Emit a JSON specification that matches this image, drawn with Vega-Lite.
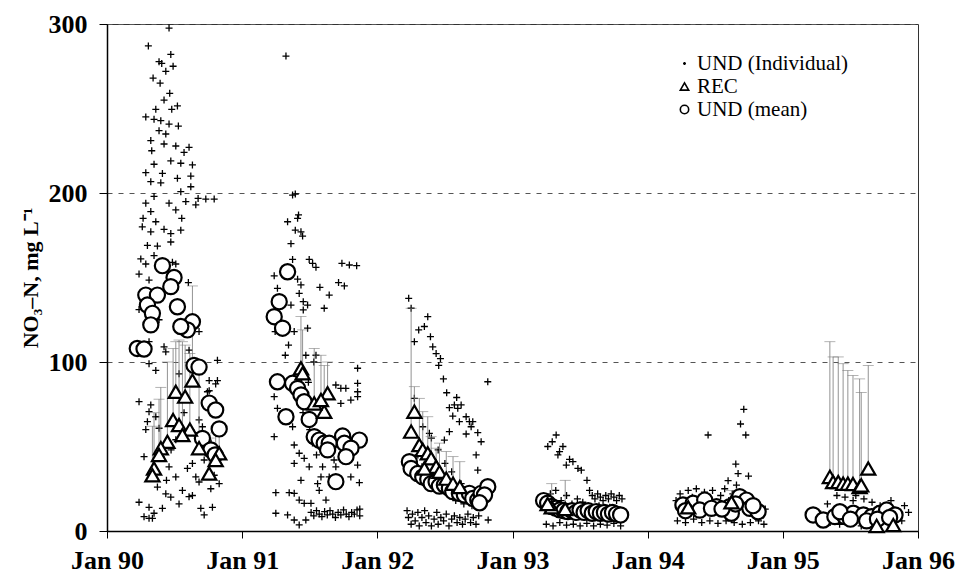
{
  "$schema": "https://vega.github.io/schema/vega-lite/v6.json",
  "autosize": {"type": "none"},
  "padding": {"left": 107, "top": 24, "right": 40, "bottom": 47},
  "width": 811,
  "height": 507,
  "background": "white",
  "config": {
    "view": {"stroke": "#333", "strokeWidth": 1},
    "font": "Liberation Serif"
  },
  "datasets": {
    "ind": [
      {"t":1990.459,"v":297.6},{"t":1990.306,"v":287},{"t":1990.472,"v":282},{"t":1990.385,"v":277.7},{"t":1990.405,"v":276.7},{"t":1990.489,"v":275},{"t":1990.435,"v":272},{"t":1990.341,"v":268},{"t":1990.393,"v":265},{"t":1990.464,"v":259},{"t":1990.422,"v":255},{"t":1990.521,"v":251.5},{"t":1990.361,"v":249.5},{"t":1990.479,"v":249.5},{"t":1990.287,"v":245},{"t":1990.348,"v":243.6},{"t":1990.398,"v":242.8},{"t":1990.459,"v":240.8},{"t":1990.528,"v":239.6},{"t":1990.385,"v":236.9},{"t":1990.435,"v":234.9},{"t":1990.324,"v":231},{"t":1990.422,"v":229},{"t":1990.509,"v":227.8},{"t":1990.607,"v":227},{"t":1990.57,"v":224},{"t":1990.331,"v":225},{"t":1990.472,"v":219},{"t":1990.546,"v":217.6},{"t":1990.632,"v":216.6},{"t":1990.348,"v":217},{"t":1990.287,"v":212},{"t":1990.41,"v":211.6},{"t":1990.521,"v":208.7},{"t":1990.62,"v":210},{"t":1990.324,"v":206.7},{"t":1990.398,"v":206},{"t":1990.62,"v":203.7},{"t":1990.546,"v":200.8},{"t":1990.348,"v":198},{"t":1990.674,"v":196.8},{"t":1990.731,"v":196.4},{"t":1990.793,"v":196.4},{"t":1990.287,"v":194},{"t":1990.459,"v":194},{"t":1990.583,"v":194.9},{"t":1990.657,"v":193},{"t":1990.324,"v":189},{"t":1990.509,"v":190},{"t":1990.553,"v":185},{"t":1990.267,"v":185},{"t":1990.361,"v":183},{"t":1990.261,"v":180},{"t":1990.422,"v":178.5},{"t":1990.546,"v":178},{"t":1990.324,"v":177},{"t":1990.472,"v":176},{"t":1990.299,"v":169},{"t":1990.373,"v":168.6},{"t":1990.472,"v":171},{"t":1990.25,"v":161},{"t":1990.287,"v":158},{"t":1990.484,"v":159},{"t":1990.348,"v":163},{"t":1990.509,"v":158},{"t":1990.237,"v":152},{"t":1990.311,"v":148.5},{"t":1990.602,"v":147},{"t":1990.237,"v":131},{"t":1990.385,"v":125},{"t":1990.681,"v":118},{"t":1990.311,"v":112},{"t":1990.422,"v":109},{"t":1990.435,"v":106},{"t":1990.607,"v":107},{"t":1990.817,"v":101},{"t":1990.311,"v":99},{"t":1990.361,"v":95},{"t":1990.533,"v":93},{"t":1990.756,"v":89},{"t":1990.817,"v":89},{"t":1990.237,"v":76.5},{"t":1990.324,"v":74.6},{"t":1990.311,"v":70.6},{"t":1990.299,"v":64.7},{"t":1990.287,"v":60},{"t":1990.385,"v":60.8},{"t":1990.274,"v":44},{"t":1990.459,"v":38},{"t":1990.509,"v":32},{"t":1990.373,"v":26},{"t":1990.435,"v":22},{"t":1990.472,"v":20},{"t":1990.237,"v":17},{"t":1990.311,"v":14},{"t":1990.348,"v":10.5},{"t":1990.311,"v":7.5},{"t":1990.632,"v":21},{"t":1990.694,"v":13.4},{"t":1990.78,"v":14},{"t":1990.719,"v":9.5},{"t":1990.83,"v":28},{"t":1990.657,"v":32},{"t":1990.768,"v":25},{"t":1990.595,"v":37},{"t":1990.558,"v":24},{"t":1990.632,"v":40},{"t":1990.681,"v":65.7},{"t":1990.706,"v":61.7},{"t":1990.756,"v":83},{"t":1990.804,"v":87},{"t":1990.533,"v":16},{"t":1990.41,"v":13.4},{"t":1990.509,"v":54},{"t":1990.274,"v":8.5},{"t":1990.336,"v":7.5},{"t":1990.4,"v":44},{"t":1990.474,"v":48},{"t":1990.57,"v":70},{"t":1990.644,"v":58},{"t":1990.44,"v":30},{"t":1990.719,"v":42},{"t":1990.793,"v":33},{"t":1990.77,"v":52},{"t":1990.361,"v":67.6},{"t":1990.743,"v":82.4},{"t":1990.681,"v":29},{"t":1990.607,"v":20.3},
      {"t":1991.324,"v":281},{"t":1991.373,"v":198.8},{"t":1991.393,"v":199.4},{"t":1991.417,"v":187},{"t":1991.41,"v":185},{"t":1991.336,"v":183},{"t":1991.393,"v":178},{"t":1991.435,"v":177},{"t":1991.447,"v":174.5},{"t":1991.361,"v":170},{"t":1991.373,"v":160.7},{"t":1991.496,"v":160.7},{"t":1991.521,"v":158.4},{"t":1991.546,"v":156},{"t":1991.738,"v":158.4},{"t":1991.793,"v":157.4},{"t":1991.847,"v":157},{"t":1991.237,"v":151},{"t":1991.41,"v":149},{"t":1991.435,"v":145.6},{"t":1991.261,"v":143.6},{"t":1991.422,"v":140.6},{"t":1991.575,"v":144.2},{"t":1991.713,"v":147},{"t":1991.756,"v":145},{"t":1991.644,"v":139.6},{"t":1991.452,"v":135.7},{"t":1991.484,"v":133.7},{"t":1991.361,"v":133.7},{"t":1991.607,"v":131.8},{"t":1991.452,"v":130.8},{"t":1991.484,"v":120},{"t":1991.244,"v":118},{"t":1991.385,"v":118},{"t":1991.343,"v":110},{"t":1991.319,"v":104},{"t":1991.471,"v":104},{"t":1991.546,"v":104},{"t":1991.854,"v":96.3},{"t":1991.237,"v":79.5},{"t":1991.261,"v":72.6},{"t":1991.693,"v":86.4},{"t":1991.73,"v":84.4},{"t":1991.767,"v":84.4},{"t":1991.854,"v":87.4},{"t":1991.854,"v":82.4},{"t":1991.854,"v":79.5},{"t":1991.804,"v":77.5},{"t":1991.73,"v":75.5},{"t":1991.237,"v":55.8},{"t":1991.373,"v":61.7},{"t":1991.385,"v":50.9},{"t":1991.422,"v":46},{"t":1991.459,"v":43},{"t":1991.385,"v":40},{"t":1991.496,"v":38},{"t":1991.595,"v":38},{"t":1991.693,"v":38},{"t":1991.854,"v":39},{"t":1991.583,"v":32},{"t":1991.435,"v":30},{"t":1991.558,"v":28},{"t":1991.644,"v":32},{"t":1991.804,"v":32},{"t":1991.867,"v":28.6},{"t":1991.57,"v":24},{"t":1991.249,"v":22.7},{"t":1991.348,"v":22.7},{"t":1991.385,"v":22.3},{"t":1991.422,"v":18.3},{"t":1991.459,"v":16.4},{"t":1991.509,"v":16.4},{"t":1991.62,"v":18.3},{"t":1991.249,"v":10.5},{"t":1991.336,"v":9.5},{"t":1991.385,"v":6.5},{"t":1991.422,"v":3.6},{"t":1991.471,"v":6.5},
      {"t":1991.51,"v":11},{"t":1991.53,"v":9},{"t":1991.55,"v":12},{"t":1991.57,"v":10},{"t":1991.59,"v":8.5},{"t":1991.61,"v":11.5},{"t":1991.63,"v":9.5},{"t":1991.65,"v":12},{"t":1991.67,"v":10},{"t":1991.69,"v":8},{"t":1991.71,"v":11},{"t":1991.73,"v":9.5},{"t":1991.75,"v":12.5},{"t":1991.77,"v":10},{"t":1991.79,"v":8.5},{"t":1991.81,"v":11},{"t":1991.83,"v":10},{"t":1991.85,"v":12.5},{"t":1991.87,"v":9},{"t":1991.87,"v":13},
      {"t":1991.45,"v":70},{"t":1991.47,"v":65},{"t":1991.5,"v":60},{"t":1991.52,"v":52},{"t":1991.55,"v":45},{"t":1991.58,"v":55},{"t":1991.62,"v":48},{"t":1991.68,"v":42},{"t":1991.7,"v":30},{"t":1991.44,"v":90},{"t":1991.49,"v":88},{"t":1991.53,"v":100},
      {"t":1992.232,"v":137.7},{"t":1992.25,"v":131.8},{"t":1992.373,"v":126.8},{"t":1992.348,"v":121},{"t":1992.306,"v":119},{"t":1992.393,"v":115},{"t":1992.274,"v":112},{"t":1992.41,"v":109},{"t":1992.435,"v":105},{"t":1992.467,"v":102},{"t":1992.454,"v":98},{"t":1992.489,"v":90},{"t":1992.817,"v":88.3},{"t":1992.513,"v":81.8},{"t":1992.587,"v":79},{"t":1992.533,"v":73},{"t":1992.57,"v":74.6},{"t":1992.595,"v":72.6},{"t":1992.62,"v":74.6},{"t":1992.558,"v":68},{"t":1992.607,"v":64.7},{"t":1992.657,"v":67.6},{"t":1992.681,"v":64.7},{"t":1992.694,"v":61.7},{"t":1992.706,"v":64.7},{"t":1992.657,"v":57.4},{"t":1992.743,"v":58.2},{"t":1992.768,"v":52.8},{"t":1992.731,"v":45},{"t":1992.743,"v":36},{"t":1992.533,"v":58.8},{"t":1992.496,"v":53.8},{"t":1992.385,"v":57.8},{"t":1992.336,"v":61.7},{"t":1992.274,"v":78.5},
      {"t":1992.22,"v":12},{"t":1992.23,"v":8},{"t":1992.25,"v":4},{"t":1992.26,"v":10},{"t":1992.28,"v":6},{"t":1992.3,"v":11},{"t":1992.31,"v":3},{"t":1992.33,"v":8},{"t":1992.35,"v":12},{"t":1992.36,"v":5},{"t":1992.38,"v":9},{"t":1992.4,"v":3},{"t":1992.42,"v":7},{"t":1992.44,"v":11},{"t":1992.45,"v":4},{"t":1992.47,"v":8},{"t":1992.49,"v":6},{"t":1992.51,"v":10},{"t":1992.53,"v":3},{"t":1992.55,"v":7},{"t":1992.57,"v":9},{"t":1992.59,"v":5},{"t":1992.61,"v":8},{"t":1992.63,"v":4},{"t":1992.65,"v":7},{"t":1992.67,"v":10},{"t":1992.69,"v":5},{"t":1992.71,"v":8},{"t":1992.73,"v":4},{"t":1992.75,"v":9},{"t":1992.82,"v":6.5},
      {"t":1992.3,"v":45},{"t":1992.33,"v":38},{"t":1992.36,"v":33},{"t":1992.42,"v":30},{"t":1992.47,"v":25},{"t":1992.52,"v":22},{"t":1992.58,"v":18},{"t":1992.64,"v":16},{"t":1992.7,"v":15},{"t":1992.75,"v":14},{"t":1992.45,"v":48},{"t":1992.5,"v":40},{"t":1992.4,"v":55},{"t":1992.55,"v":35},{"t":1992.62,"v":28},
      {"t":1993.323,"v":56.8},{"t":1993.294,"v":52.8},{"t":1993.261,"v":50},{"t":1993.373,"v":50},{"t":1993.348,"v":47},{"t":1993.336,"v":45},{"t":1993.422,"v":42.4},{"t":1993.447,"v":41},{"t":1993.398,"v":39},{"t":1993.484,"v":37},{"t":1993.509,"v":36},{"t":1993.551,"v":30},{"t":1993.57,"v":24},
      {"t":1993.59,"v":21},{"t":1993.61,"v":19},{"t":1993.63,"v":22},{"t":1993.65,"v":20},{"t":1993.67,"v":18},{"t":1993.69,"v":21},{"t":1993.71,"v":19},{"t":1993.73,"v":22},{"t":1993.75,"v":20},{"t":1993.77,"v":18},{"t":1993.79,"v":21},{"t":1993.81,"v":19},
      {"t":1993.25,"v":4},{"t":1993.3,"v":3},{"t":1993.35,"v":5},{"t":1993.4,"v":3.5},{"t":1993.45,"v":4},{"t":1993.5,"v":3},{"t":1993.55,"v":4.5},{"t":1993.6,"v":3},{"t":1993.65,"v":4},{"t":1993.7,"v":3.5},{"t":1993.75,"v":4.5},{"t":1993.8,"v":3},
      {"t":1993.24,"v":20},{"t":1993.28,"v":22},{"t":1993.32,"v":24},{"t":1993.36,"v":18},{"t":1993.4,"v":21},{"t":1993.44,"v":16},{"t":1993.48,"v":19},{"t":1993.52,"v":17},{"t":1993.56,"v":14},{"t":1993.6,"v":12},{"t":1993.64,"v":15},{"t":1993.68,"v":11},{"t":1993.72,"v":14},{"t":1993.76,"v":12},{"t":1993.8,"v":10},
      {"t":1994.711,"v":72},{"t":1994.687,"v":63.3},{"t":1994.726,"v":56.8},{"t":1994.447,"v":56.8},{"t":1994.652,"v":39.6},{"t":1994.669,"v":34},{"t":1994.746,"v":32.5},{"t":1994.595,"v":29.8},{"t":1994.657,"v":27.2},
      {"t":1994.21,"v":18},{"t":1994.24,"v":22},{"t":1994.27,"v":15},{"t":1994.3,"v":24},{"t":1994.33,"v":20},{"t":1994.36,"v":25},{"t":1994.39,"v":17},{"t":1994.42,"v":23},{"t":1994.45,"v":19},{"t":1994.48,"v":24},{"t":1994.51,"v":16},{"t":1994.54,"v":21},{"t":1994.57,"v":25},{"t":1994.6,"v":18},{"t":1994.63,"v":22},{"t":1994.66,"v":16},{"t":1994.69,"v":20},{"t":1994.72,"v":14},{"t":1994.75,"v":18},{"t":1994.78,"v":12},{"t":1994.81,"v":16},{"t":1994.84,"v":10},{"t":1994.87,"v":13},
      {"t":1994.22,"v":6},{"t":1994.28,"v":5},{"t":1994.34,"v":7},{"t":1994.4,"v":5},{"t":1994.46,"v":6},{"t":1994.52,"v":4.5},{"t":1994.58,"v":6},{"t":1994.64,"v":5},{"t":1994.7,"v":4},{"t":1994.76,"v":5},{"t":1994.82,"v":6},{"t":1994.86,"v":4},
      {"t":1995.33,"v":16},{"t":1995.4,"v":21},{"t":1995.46,"v":20},{"t":1995.52,"v":18},{"t":1995.54,"v":21},{"t":1995.6,"v":19},{"t":1995.66,"v":17},{"t":1995.72,"v":15},{"t":1995.8,"v":18},{"t":1995.85,"v":12},{"t":1995.9,"v":15},{"t":1995.93,"v":11},{"t":1995.35,"v":5},{"t":1995.42,"v":4},{"t":1995.5,"v":6},{"t":1995.58,"v":3},{"t":1995.68,"v":5},{"t":1995.78,"v":4},{"t":1995.88,"v":6},{"t":1995.28,"v":10},{"t":1995.45,"v":13},{"t":1995.62,"v":12},{"t":1995.75,"v":10}
    ],
    "rec": [
      {"t":1990.632,"v":89,"hi":145},{"t":1990.509,"v":82.4,"hi":112},{"t":1990.578,"v":79.5,"hi":110},{"t":1990.489,"v":65.7,"hi":108},{"t":1990.533,"v":62.7,"hi":113},{"t":1990.613,"v":60,"hi":105},{"t":1990.558,"v":56.8,"hi":112},{"t":1990.447,"v":52.8,"hi":100},{"t":1990.398,"v":49,"hi":85},{"t":1990.385,"v":45,"hi":78},{"t":1990.681,"v":49,"hi":95},{"t":1990.83,"v":46,"hi":60},{"t":1990.756,"v":34,"hi":55},{"t":1990.348,"v":37,"hi":70},{"t":1990.336,"v":33,"hi":62},{"t":1990.804,"v":42,"hi":58},
      {"t":1991.435,"v":96.3,"hi":127},{"t":1991.447,"v":93.3,"hi":119},{"t":1991.632,"v":81.5,"hi":100},{"t":1991.607,"v":70.6,"hi":98},{"t":1991.533,"v":75.5,"hi":108},{"t":1991.583,"v":77.5,"hi":104},
      {"t":1992.274,"v":70.6,"hi":85.4},{"t":1992.25,"v":58.8,"hi":131.8},{"t":1992.311,"v":50.9,"hi":78.5},{"t":1992.336,"v":48,"hi":70.6},{"t":1992.373,"v":46,"hi":67.6},{"t":1992.398,"v":43,"hi":55.8},{"t":1992.435,"v":38,"hi":49},{"t":1992.348,"v":37,"hi":46},{"t":1992.46,"v":35,"hi":52},{"t":1992.51,"v":31,"hi":47},{"t":1992.56,"v":28,"hi":44},{"t":1992.61,"v":26,"hi":41},
      {"t":1993.29,"v":14,"hi":28},{"t":1993.39,"v":13,"hi":30},{"t":1993.26,"v":16,"hi":22},
      {"t":1994.3,"v":14,"hi":20},{"t":1994.62,"v":17,"hi":24},
      {"t":1995.348,"v":32,"hi":112},{"t":1995.372,"v":29,"hi":103},{"t":1995.41,"v":29,"hi":103},{"t":1995.446,"v":28,"hi":99},{"t":1995.481,"v":28,"hi":95},{"t":1995.519,"v":27.8,"hi":92},{"t":1995.568,"v":26,"hi":90},{"t":1995.58,"v":27,"hi":82},{"t":1995.632,"v":37,"hi":98},{"t":1995.694,"v":3,"hi":6},{"t":1995.817,"v":3.5,"hi":6}
    ],
    "mean": [
      {"t":1990.41,"v":157},{"t":1990.496,"v":150},{"t":1990.472,"v":144.6},{"t":1990.287,"v":139.6},{"t":1990.373,"v":139.6},{"t":1990.299,"v":133.7},{"t":1990.336,"v":128.8},{"t":1990.521,"v":132.7},{"t":1990.632,"v":123.8},{"t":1990.595,"v":119},{"t":1990.546,"v":121},{"t":1990.324,"v":122},{"t":1990.224,"v":108},{"t":1990.274,"v":107.7},{"t":1990.644,"v":98},{"t":1990.681,"v":97},{"t":1990.756,"v":75.7},{"t":1990.804,"v":71.6},{"t":1990.83,"v":60.4},{"t":1990.706,"v":54.8},{"t":1990.768,"v":48},{"t":1990.8,"v":45},
      {"t":1991.336,"v":153.4},{"t":1991.274,"v":135.7},{"t":1991.237,"v":126.8},{"t":1991.299,"v":120},{"t":1991.261,"v":88.3},{"t":1991.373,"v":87.4},{"t":1991.41,"v":84.4},{"t":1991.435,"v":80.5},{"t":1991.459,"v":76.5},{"t":1991.324,"v":67.6},{"t":1991.496,"v":66},{"t":1991.533,"v":55.8},{"t":1991.57,"v":53.8},{"t":1991.607,"v":51.9},{"t":1991.644,"v":51.9},{"t":1991.632,"v":48},{"t":1991.743,"v":56.2},{"t":1991.756,"v":51.9},{"t":1991.867,"v":53.8},{"t":1991.805,"v":49},{"t":1991.768,"v":44},{"t":1991.693,"v":29.2},
      {"t":1992.237,"v":41},{"t":1992.25,"v":37},{"t":1992.299,"v":34},{"t":1992.336,"v":32},{"t":1992.373,"v":30.6},{"t":1992.398,"v":28},{"t":1992.435,"v":29},{"t":1992.459,"v":26.6},{"t":1992.496,"v":27.2},{"t":1992.533,"v":25.3},{"t":1992.558,"v":23.3},{"t":1992.607,"v":22.3},{"t":1992.644,"v":21.3},{"t":1992.681,"v":22.3},{"t":1992.706,"v":19.3},{"t":1992.743,"v":18.3},{"t":1992.768,"v":22.3},{"t":1992.817,"v":26.2},{"t":1992.793,"v":21.3},{"t":1992.756,"v":16.7},
      {"t":1993.23,"v":18},{"t":1993.26,"v":16.5},{"t":1993.29,"v":14.5},{"t":1993.32,"v":13.5},{"t":1993.35,"v":12.5},{"t":1993.38,"v":12},{"t":1993.41,"v":11.5},{"t":1993.44,"v":12},{"t":1993.47,"v":11},{"t":1993.5,"v":12.5},{"t":1993.53,"v":11},{"t":1993.56,"v":12},{"t":1993.59,"v":10.5},{"t":1993.62,"v":11.5},{"t":1993.65,"v":10.5},{"t":1993.68,"v":11},{"t":1993.71,"v":10},{"t":1993.74,"v":11},{"t":1993.77,"v":10},{"t":1993.8,"v":9.5},
      {"t":1994.261,"v":15.4},{"t":1994.336,"v":16.4},{"t":1994.422,"v":18.3},{"t":1994.509,"v":14.4},{"t":1994.607,"v":14.4},{"t":1994.681,"v":20.3},{"t":1994.731,"v":18.3},{"t":1994.756,"v":13.4},{"t":1994.817,"v":11.4},{"t":1994.619,"v":10.5},{"t":1994.385,"v":12.4},{"t":1994.472,"v":13.4},{"t":1994.28,"v":12},{"t":1994.55,"v":13},{"t":1994.65,"v":16},{"t":1994.78,"v":15},
      {"t":1995.224,"v":9.5},{"t":1995.299,"v":6.5},{"t":1995.385,"v":8.5},{"t":1995.459,"v":8.5},{"t":1995.521,"v":10.5},{"t":1995.596,"v":9.5},{"t":1995.657,"v":8.5},{"t":1995.719,"v":10.5},{"t":1995.768,"v":12.4},{"t":1995.83,"v":9.5},{"t":1995.422,"v":11.4},{"t":1995.5,"v":7},{"t":1995.62,"v":6},{"t":1995.7,"v":7},{"t":1995.79,"v":8}
    ]
  },
  "encoding": {
    "x": {
      "field": "t", "type": "quantitative",
      "scale": {"domain": [1990, 1996], "nice": false, "zero": false},
      "axis": {
        "title": null, "values": [1990, 1991, 1992, 1993, 1994, 1995, 1996],
        "labelExpr": "'Jan ' + substring(toString(datum.value), 2, 4)",
        "grid": false, "domainColor": "black", "domainWidth": 1.5,
        "tickColor": "black", "tickSize": 7, "tickWidth": 1,
        "labelFont": "Liberation Serif", "labelFontSize": 26, "labelFontWeight": "bold",
        "labelColor": "black", "labelPadding": 9, "labelFlush": false
      }
    },
    "y": {
      "field": "v", "type": "quantitative",
      "scale": {"domain": [0, 300], "nice": false},
      "axis": {
        "title": "NO₃–N, mg L⁻¹", "values": [0, 100, 200, 300],
        "grid": true, "gridDash": [5, 6], "gridColor": "#555", "gridWidth": 1,
        "domainColor": "black", "domainWidth": 1.5,
        "tickColor": "black", "tickSize": 8, "tickWidth": 1,
        "labelFont": "Liberation Serif", "labelFontSize": 26, "labelFontWeight": "bold",
        "labelColor": "black", "labelPadding": 12,
        "titleFont": "Liberation Serif", "titleFontSize": 22, "titleFontWeight": "bold",
        "titleColor": "black", "titlePadding": 6
      }
    }
  },
  "layer": [
    {
      "data": {"name": "ind"},
      "mark": {"type": "point", "filled": false, "stroke": "black", "strokeWidth": 1.3, "size": 400, "opacity": 1},
      "encoding": {
        "shape": {
          "datum": "UND (Individual)",
          "scale": {"domain": ["UND (Individual)", "REC", "UND (mean)"], "range": ["M-0.35,0H0.35M0,-0.35V0.35", "triangle-up", "circle"]},
          "legend": {
            "title": null, "orient": "none", "legendX": 567, "legendY": 29,
            "labelFont": "Liberation Serif", "labelFontSize": 21, "labelColor": "black",
            "symbolSize": 70, "symbolStrokeWidth": 1.6, "symbolStrokeColor": "black", "symbolFillColor": "white",
            "rowPadding": 1, "labelOffset": 2, "padding": 0
          }
        }
      }
    },
    {
      "data": {"name": "rec"},
      "mark": {"type": "rule", "color": "#777", "strokeWidth": 0.8},
      "encoding": {"y2": {"field": "hi"}}
    },
    {
      "data": {"name": "rec"},
      "mark": {"type": "tick", "orient": "horizontal", "color": "#777", "size": 11, "thickness": 0.8},
      "encoding": {"y": {"field": "hi", "type": "quantitative"}}
    },
    {
      "data": {"name": "mean"},
      "mark": {"type": "point", "filled": true, "fill": "white", "stroke": "black", "strokeWidth": 2.2, "size": 230, "opacity": 1},
      "encoding": {"shape": {"datum": "UND (mean)"}}
    },
    {
      "data": {"name": "rec"},
      "mark": {"type": "point", "filled": true, "fill": "white", "stroke": "black", "strokeWidth": 2.2, "size": 200, "opacity": 1},
      "encoding": {"shape": {"datum": "REC"}}
    }
  ]
}
